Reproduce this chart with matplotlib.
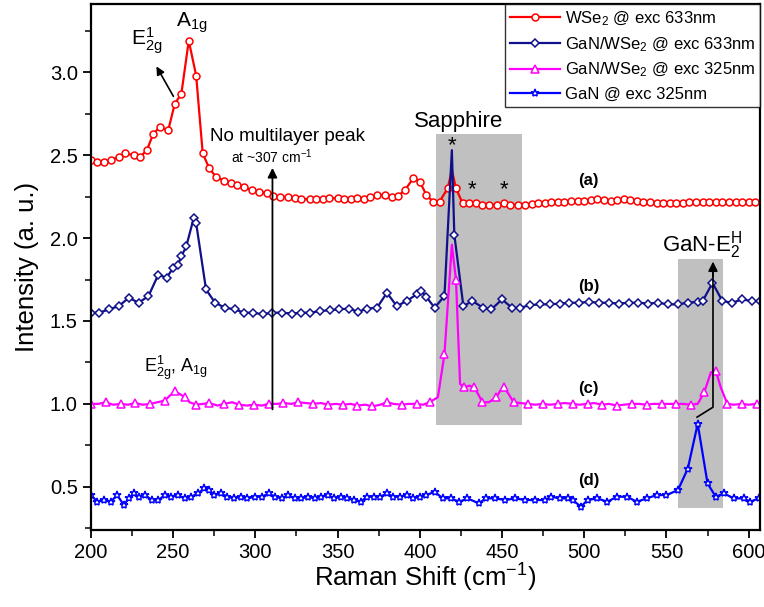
import numpy as np
import matplotlib.pyplot as plt

plt.rcParams['font.family'] = ['Liberation Sans', 'DejaVu Sans']
plt.rcParams['mathtext.fontset'] = 'custom'
plt.rcParams['mathtext.rm'] = 'Liberation Sans'
plt.rcParams['mathtext.it'] = 'Liberation Sans'

# (a) WSe2 @ 633nm
wse2_x = [200, 204, 208, 212, 217, 221, 226, 230, 234, 238, 242, 247, 251, 255, 259.5, 264, 268, 272,
          276, 281, 285, 289, 293, 298, 302, 307, 311, 315, 320, 324, 328, 333, 337, 341, 345, 350,
          354, 358, 362, 366, 370, 374, 379, 383, 387, 391, 396, 400, 404, 408, 412, 417, 419.5, 422,
          426, 430, 434, 438, 442, 447, 451, 455, 460, 464, 468, 472, 476, 480, 484, 488, 492, 496,
          500, 504, 508, 512, 516, 520, 524, 528, 532, 536, 540, 544, 548, 552, 556, 560, 564, 568,
          572, 576, 580, 584, 588, 592, 596, 600, 604]
wse2_y = [2.47, 2.46, 2.46, 2.47, 2.49, 2.51, 2.50, 2.49, 2.53, 2.63, 2.67, 2.65, 2.81, 2.87, 3.19, 2.98, 2.51, 2.42,
          2.37, 2.345, 2.33, 2.32, 2.305, 2.29, 2.28, 2.27, 2.255, 2.25, 2.245, 2.24, 2.235, 2.235, 2.235, 2.235, 2.24, 2.24,
          2.235, 2.235, 2.24, 2.235, 2.245, 2.26, 2.26, 2.25, 2.255, 2.29, 2.36, 2.34, 2.26, 2.22, 2.22, 2.30, 2.41, 2.30,
          2.21, 2.21, 2.21, 2.20, 2.20, 2.20, 2.21, 2.20, 2.20, 2.20, 2.205, 2.21, 2.21, 2.215, 2.215, 2.22, 2.225, 2.225,
          2.225, 2.23, 2.235, 2.23, 2.225, 2.23, 2.235, 2.23, 2.225, 2.22, 2.215, 2.21, 2.21, 2.21, 2.21, 2.21, 2.215, 2.215,
          2.215, 2.215, 2.215, 2.215, 2.215, 2.215, 2.215, 2.215, 2.22]

# (b) GaN/WSe2 @ 633nm
gw633_x = [200, 205, 211, 217, 223, 229, 235, 241, 246, 250, 253, 255, 258, 262.5, 264, 270, 275.5, 281.5,
           287.5, 293, 298.5, 304.5, 310, 316, 322, 328, 333.5, 339.5, 345.5, 351, 357, 362.5, 368, 374,
           380, 386, 392, 398, 401, 404, 409, 415, 419.5, 421, 426.5, 432, 438.5, 443.5, 450, 456, 461,
           467, 473, 479, 485, 491, 497, 503, 509, 515, 521, 527, 533, 539, 545, 551, 557, 563, 569, 572,
           578, 584, 590, 596, 602, 607]
gw633_y = [1.55, 1.55, 1.57, 1.59, 1.64, 1.61, 1.65, 1.78, 1.76, 1.82, 1.84, 1.89, 1.95, 2.12, 2.09, 1.69, 1.61, 1.58,
           1.57, 1.55, 1.55, 1.54, 1.55, 1.55, 1.545, 1.55, 1.55, 1.56, 1.565, 1.57, 1.575, 1.555, 1.575, 1.58,
           1.67, 1.59, 1.62, 1.66, 1.68, 1.645, 1.58, 1.65, 2.53, 2.02, 1.59, 1.62, 1.58, 1.57, 1.63, 1.58, 1.58,
           1.595, 1.60, 1.60, 1.605, 1.61, 1.61, 1.615, 1.61, 1.61, 1.605, 1.61, 1.61, 1.605, 1.61, 1.60, 1.60, 1.61, 1.615, 1.62,
           1.73, 1.62, 1.61, 1.63, 1.62, 1.62]

# (c) GaN/WSe2 @ 325nm
gw325_x = [200, 204.5, 209, 213.5, 218, 222.5, 227, 231.5, 236, 240.5, 245, 248, 251, 254, 257, 260, 264, 268,
           272, 277, 281, 286, 290, 295, 299, 304, 308, 313, 317, 322, 326, 331, 335, 340, 344, 349, 353,
           358, 362, 367, 371, 376, 380, 384, 389, 393, 398, 402, 406, 411, 415, 419.5, 422, 424.5, 427,
           430, 433, 436, 438, 442, 446.5, 449, 451, 454, 457, 461, 466, 470, 475, 479, 484, 488, 493, 497,
           502, 506, 511, 515, 520, 524, 529, 533, 538, 542, 547, 551, 556, 560, 565, 569, 573, 577, 580,
           583, 587, 591, 596, 600, 605]
gw325_y = [1.0, 1.0, 1.01, 0.995, 1.0, 0.995, 1.005, 0.995, 1.0, 1.01, 1.02, 1.05, 1.075, 1.06, 1.04, 1.01, 0.995, 1.0,
           1.005, 0.99, 1.0, 1.01, 0.995, 0.99, 0.995, 0.99, 1.0, 1.0, 1.005, 1.0, 1.01, 1.005, 1.0, 1.005, 0.995, 1.0, 0.995,
           1.0, 0.99, 0.995, 0.985, 0.995, 1.01, 1.0, 0.995, 1.0, 1.0, 0.995, 1.01, 1.04, 1.3, 1.96, 1.75, 1.12, 1.10,
           1.11, 1.10, 1.05, 1.01, 1.01, 1.04, 1.08, 1.10, 1.06, 1.01, 1.005, 1.0, 0.995, 1.0, 0.995, 1.0, 1.005, 1.0, 0.995,
           1.0, 1.005, 0.995, 1.0, 0.99, 0.995, 1.0, 1.0, 0.995, 1.0, 1.0, 1.0, 1.0, 1.0, 0.995, 1.0, 1.07, 1.19, 1.2,
           1.1, 1.0, 0.995, 1.0, 0.995, 1.0]

# (d) GaN @ 325nm
gan_x = [200, 204, 208, 212, 216, 220, 223, 226, 229, 233, 237, 241, 245, 249, 253, 257, 261, 265, 269, 272,
         275, 279, 283, 287, 291, 295, 300, 304, 308, 312, 316, 320, 324, 328, 332, 336, 340, 344, 348, 352,
         356, 360, 364, 368, 372, 376, 380, 384, 388, 392, 396, 400, 404, 409, 414, 419, 424, 429, 436, 440,
         446, 452, 458, 464, 470, 476, 480, 485, 490, 493, 498, 502, 508, 514, 520, 526, 532, 538, 544, 550,
         557, 563, 569, 575, 580, 585, 591, 597, 601, 606]
gan_y = [0.45, 0.41, 0.42, 0.41, 0.45, 0.39, 0.43, 0.46, 0.44, 0.45, 0.42, 0.42, 0.45, 0.44, 0.45, 0.43, 0.44, 0.46, 0.49, 0.48,
         0.45, 0.46, 0.44, 0.43, 0.44, 0.43, 0.44, 0.44, 0.46, 0.44, 0.43, 0.45, 0.43, 0.43, 0.44, 0.43, 0.44, 0.45, 0.43, 0.44,
         0.43, 0.42, 0.41, 0.44, 0.44, 0.44, 0.46, 0.44, 0.44, 0.45, 0.43, 0.44, 0.45, 0.47, 0.43, 0.43, 0.41, 0.43, 0.40, 0.43,
         0.43, 0.42, 0.43, 0.42, 0.42, 0.42, 0.44, 0.43, 0.43, 0.42, 0.38, 0.42, 0.43, 0.41, 0.44, 0.44, 0.41, 0.43, 0.45, 0.45,
         0.48, 0.61, 0.88, 0.52, 0.44, 0.46, 0.43, 0.43, 0.41, 0.43]


def marks(xs, skip):
    m = np.ones(len(xs), dtype=bool)
    for s in skip:
        m[xs.index(s)] = False
    return list(m)


fig = plt.figure(figsize=(7.64, 6.07), dpi=100)
ax = fig.add_axes([0.119, 0.127, 0.876, 0.866])

# shaded regions
ax.fill_between([410, 462], 0.87, 2.63, color='#c0c0c0', lw=0, zorder=0)
ax.fill_between([557, 584.5], 0.37, 1.875, color='#c0c0c0', lw=0, zorder=0)

ms_kw = dict(markerfacecolor='white', lw=1.6, markeredgewidth=1.1)
ax.plot(wse2_x, wse2_y, '-o', color='#ff0000', ms=5, markevery=marks(wse2_x, [419.5]),
        label='WSe$_2$ @ exc 633nm', **ms_kw)
ax.plot(gw633_x, gw633_y, '-D', color='#10108a', ms=4.5, markevery=marks(gw633_x, [419.5]),
        label='GaN/WSe$_2$ @ exc 633nm', **ms_kw)
ax.plot(gw325_x, gw325_y, '-^', color='#ff00ff', ms=5.5, markevery=2,
        label='GaN/WSe$_2$ @ exc 325nm', **ms_kw)
ax.plot(gan_x, gan_y, '-*', color='#0000ff', ms=6, markevery=1,
        label='GaN @ exc 325nm', **ms_kw)

ax.set_xlim(200, 607)
ax.set_ylim(0.24, 3.41)
ax.set_xticks(np.arange(200, 601, 50))
ax.set_xticks(np.arange(225, 607, 50), minor=True)
ax.set_yticks([0.5, 1.0, 1.5, 2.0, 2.5, 3.0])
ax.set_yticks([0.25, 0.75, 1.25, 1.75, 2.25, 2.75, 3.25], minor=True)
ax.tick_params(which='major', direction='out', length=6, width=1.3, labelsize=14.5)
ax.tick_params(which='minor', direction='out', length=4, width=1.1)
for sp in ax.spines.values():
    sp.set_linewidth(1.6)

ax.set_xlabel('Raman Shift (cm$^{-1}$)', fontsize=18.5, labelpad=0)
ax.set_ylabel('Intensity (a. u.)', fontsize=18.5, labelpad=8)

leg = ax.legend(loc='upper right', bbox_to_anchor=(1.0, 1.0), fontsize=12, frameon=True,
                fancybox=False, edgecolor='black', handlelength=3.0, borderpad=0.3,
                labelspacing=0.45, handletextpad=0.3, borderaxespad=0.0)
leg.get_frame().set_linewidth(1.0)

# peak annotations
ax.text(261.5, 3.30, 'A$_{1g}$', fontsize=15, ha='center', va='center')
ax.text(234, 3.19, 'E$^1_{2g}$', fontsize=15, ha='center', va='center')
ax.annotate('', xy=(239, 3.05), xytext=(251, 2.84),
            arrowprops=dict(arrowstyle='-|>', color='black', lw=1.2, mutation_scale=12))
ax.text(319.5, 2.61, 'No multilayer peak', fontsize=13.5, ha='center', va='center')
ax.text(310, 2.49, 'at ~307 cm$^{-1}$', fontsize=10, ha='center', va='center')
ax.annotate('', xy=(310.4, 2.44), xytext=(310.4, 0.95),
            arrowprops=dict(arrowstyle='-|>', color='black', lw=1.3, mutation_scale=14))
ax.text(252, 1.22, 'E$^1_{2g}$, A$_{1g}$', fontsize=13, ha='center', va='center')

ax.text(423.5, 2.70, 'Sapphire', fontsize=16, ha='center', va='center')
for sx, sy in [(419.6, 2.56), (432, 2.29), (451.3, 2.29)]:
    ax.text(sx, sy, '*', fontsize=16, ha='center', va='center')

ax.text(571.5, 1.96, 'GaN-E$^H_2$', fontsize=16, ha='center', va='center')
ax.plot([568.6, 578.3, 578.3], [0.92, 0.98, 1.80], color='black', lw=1.2)
ax.annotate('', xy=(578.3, 1.875), xytext=(578.3, 1.75),
            arrowprops=dict(arrowstyle='-|>', color='black', lw=1.2, mutation_scale=14))

for lab, ly in [('(a)', 2.35), ('(b)', 1.71), ('(c)', 1.095), ('(d)', 0.54)]:
    ax.text(502.5, ly, lab, fontsize=12, fontweight='bold', ha='center', va='center')

fig.savefig('out.png', dpi=100)
